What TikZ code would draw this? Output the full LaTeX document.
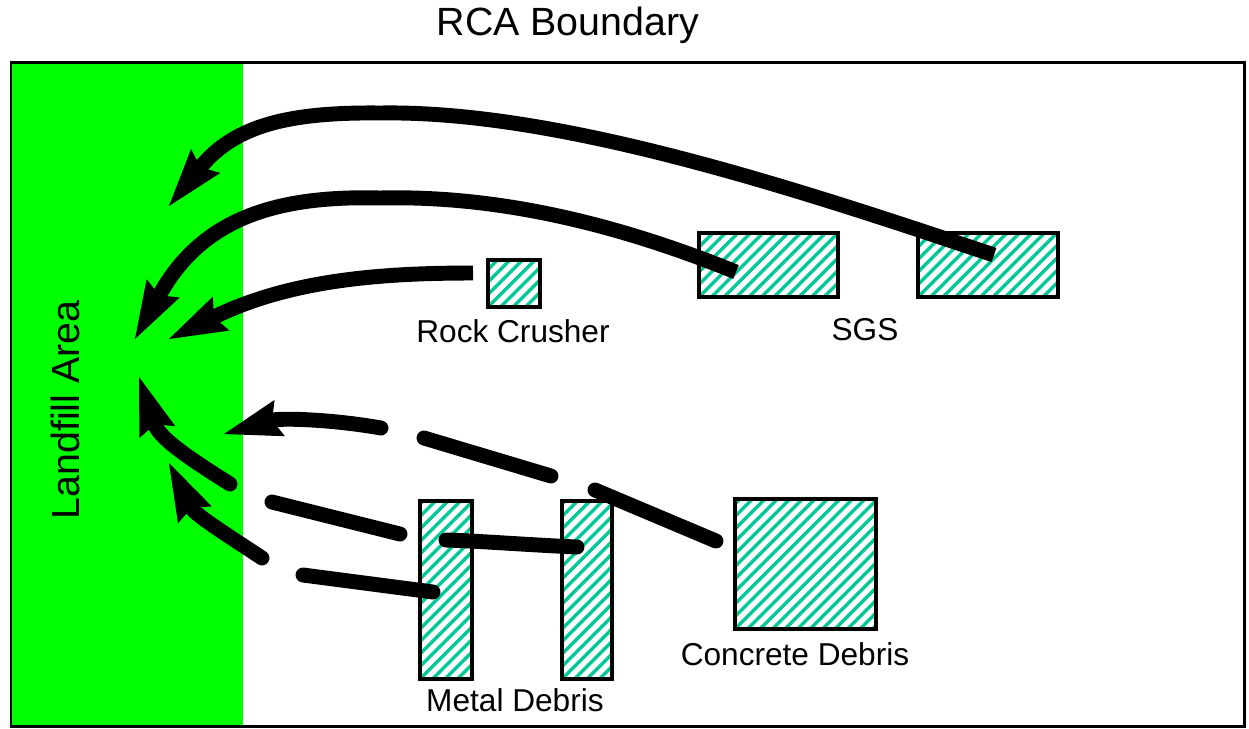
\documentclass[tikz,border=0pt]{standalone}
\usepackage{fontspec}
\setmainfont{Liberation Sans}
\usetikzlibrary{arrows.meta,fit,calc}
\definecolor{landgreen}{RGB}{0,255,0}
\definecolor{hatchgreen}{RGB}{0,200,150}
\tikzset{
  hatchbox/.style={draw=black, line width=1.8pt, inner sep=0pt, fill=white,
    path picture={
      \foreach \k in {-16,...,14}{
        \draw[hatchgreen, line width=1.9pt]
          ([xshift=\k*0.25cm]path picture bounding box.south west) -- ++(5cm,5cm);
      }
    }},
  flow/.style={line width=8.5pt, black},
  tip/.style={-{Stealth[length=33pt, width=21.5pt, inset=4.5pt, line width=0pt]}},
  lbl/.style={font=\fontsize{18pt}{20pt}\selectfont, inner sep=0pt},
  bigl/.style={font=\fontsize{22.4pt}{25pt}\selectfont, inner sep=0pt},
}
\begin{document}
\begin{tikzpicture}[x=0.02cm, y=-0.02cm]
\useasboundingbox (0,0) rectangle (1249,728);
% landfill area
\fill[landgreen] (12,63) rectangle (243,725);
\draw[line width=1.7pt] (11,62.5) rectangle (1244.5,726);
\node[bigl] (title) at (568,25) {RCA Boundary};
\node[bigl, rotate=90] (landfill) at (65,410) {Landfill Area};

% boxes
\coordinate (r1) at (488,260); \coordinate (r2) at (540,307);
\node[hatchbox, fit=(r1)(r2)] (rock) {};
\coordinate (s1a) at (699,233); \coordinate (s1b) at (838,297);
\node[hatchbox, fit=(s1a)(s1b)] (sgs1) {};
\coordinate (s2a) at (918,233); \coordinate (s2b) at (1058,297);
\node[hatchbox, fit=(s2a)(s2b)] (sgs2) {};
\coordinate (m1a) at (420,501); \coordinate (m1b) at (472,679);
\node[hatchbox, fit=(m1a)(m1b)] (metal1) {};
\coordinate (m2a) at (562,501); \coordinate (m2b) at (612,679);
\node[hatchbox, fit=(m2a)(m2b)] (metal2) {};
\coordinate (c1) at (735,499); \coordinate (c2) at (876,629);
\node[hatchbox, fit=(c1)(c2)] (concrete) {};

\node[lbl] (rocklbl) at (513,331) {Rock Crusher};
\node[lbl] (sgslbl) at (865,330) {SGS};
\node[lbl] (metallbl) at (515,700) {Metal Debris};
\node[lbl] (concretelbl) at (795,654) {Concrete Debris};

% arrow endpoints
\coordinate (a1s) at (994,255); \coordinate (a1m) at (380,113); \coordinate (a1t) at (169,206);
\coordinate (a2s) at (736,272); \coordinate (a2m) at (380,198); \coordinate (a2t) at (135,339);
\coordinate (a3s) at (473,273); \coordinate (a3t) at (169,339);

% solid arrows
\draw[flow, tip, line cap=butt] (a1s) .. controls (800,190) and (560,110) .. (a1m)
  .. controls (290,112) and (235,125) .. (a1t);
\draw[flow, tip, line cap=butt] (a2s) .. controls (620,225) and (500,195) .. (a2m)
  .. controls (270,195) and (200,222) .. (a2t);
\draw[flow, tip, line cap=butt] (a3s) .. controls (380,273) and (290,280) .. (a3t);

% dashed arrow from concrete debris
\coordinate (b1) at (716,541); \coordinate (b2) at (595,490);
\coordinate (b3) at (551,476); \coordinate (b4) at (424,438);
\coordinate (b5) at (381,428); \coordinate (b6) at (224,434);
\draw[flow, line cap=round] (b1) -- (b2);
\draw[flow, line cap=round] (b3) -- (b4);
\draw[flow, line cap=round, tip] (b5) .. controls (330,419) and (280,418) .. (b6);

% dashed arrow from metal debris 2
\coordinate (e1) at (577,547); \coordinate (e2) at (446,540);
\coordinate (e3) at (400,534); \coordinate (e4) at (272,502);
\coordinate (e5) at (230,484); \coordinate (e6) at (139,377);
\draw[flow, line cap=round] (e1) .. controls (530,545) and (480,541) .. (e2);
\draw[flow, line cap=round] (e3) -- (e4);
\draw[flow, line cap=round, tip] (e5) .. controls (200,465) and (160,440) .. (e6);

% dashed arrow from metal debris 1
\coordinate (f1) at (433,592); \coordinate (f2) at (303,575);
\coordinate (f3) at (262,558); \coordinate (f4) at (169,463);
\draw[flow, line cap=round] (f1) -- (f2);
\draw[flow, line cap=round, tip] (f3) .. controls (235,540) and (195,515) .. (f4);
\end{tikzpicture}
\end{document}
